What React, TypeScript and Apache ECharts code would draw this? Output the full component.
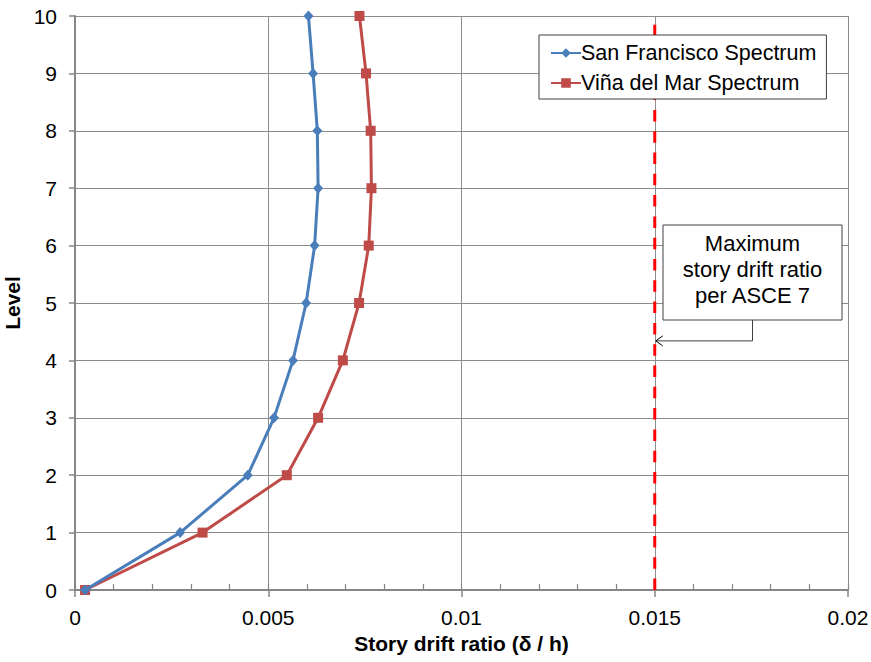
import React, { useEffect, useRef } from "react";
import * as echarts from "echarts";

const levels = [0, 1, 2, 3, 4, 5, 6, 7, 8, 9, 10];
const sanFrancisco = [0.00026, 0.00272, 0.00447, 0.00515, 0.00564, 0.00598, 0.0062, 0.00629, 0.00627, 0.00616, 0.00604];
const vinaDelMar = [0.00026, 0.0033, 0.00548, 0.00629, 0.00693, 0.00735, 0.0076, 0.00767, 0.00765, 0.00753, 0.00736];
const maxDriftRatio = 0.015;
const annotationLevel = 4.34;
const xTicks = [0, 0.005, 0.01, 0.015, 0.02];
const annotationLines = ["Maximum", "story drift ratio", "per ASCE 7"];

const FONT = "'Liberation Sans', Arial, sans-serif";

export default function App() {
  const ref = useRef<HTMLDivElement>(null);
  useEffect(() => {
    if (!ref.current) return;
    const chart = echarts.init(ref.current, null, { renderer: "svg" });
    const gridColor = "#8c8c8c";
    const axisColor = "#868686";
    const option: any = {
      animation: false,
      textStyle: { fontFamily: FONT },
      grid: { left: 75, right: 23, top: 16, bottom: 72, containLabel: false, outerBoundsMode: "none" },
      legend: {
        orient: "vertical",
        left: 539,
        top: 35,
        padding: [7, 10, 5, 11],
        itemGap: 8,
        itemWidth: 30,
        itemHeight: 12,
        borderColor: "#404040",
        borderWidth: 1,
        backgroundColor: "#fff",
        textStyle: { fontSize: 21.5, color: "#000", fontFamily: FONT, padding: [0, 0, 0, -5] },
        data: ["San Francisco Spectrum", "Viña del Mar Spectrum"],
      },
      xAxis: [
        {
          type: "value",
          min: xTicks[0],
          max: xTicks[xTicks.length - 1],
          interval: 0.005,
          name: "Story drift ratio (δ / h)",
          nameLocation: "middle",
          nameGap: 42,
          nameTextStyle: { fontSize: 21, fontWeight: "bold", color: "#000", fontFamily: FONT },
          axisLine: { show: true, onZero: false, lineStyle: { color: axisColor, width: 2 } },
          axisTick: { show: true, length: 7, inside: false, lineStyle: { color: axisColor, width: 1.5 } },
          axisLabel: {
            fontSize: 21,
            color: "#000",
            margin: 17,
            fontFamily: FONT,
            formatter: (v: number) => String(parseFloat(v.toFixed(4))),
          },
          splitLine: { show: true, lineStyle: { color: gridColor, width: 1 } },
        },
        {
          type: "value",
          min: 0,
          max: 0.02,
          interval: 0.001,
          position: "bottom",
          axisLine: { show: false },
          axisTick: { show: true, inside: true, length: 6, lineStyle: { color: axisColor, width: 1.2 } },
          axisLabel: { show: false },
          splitLine: { show: false },
        },
      ],
      yAxis: {
        type: "value",
        min: 0,
        max: 10,
        interval: 1,
        name: "Level",
        nameLocation: "middle",
        nameGap: 48,
        nameRotate: 90,
        nameTextStyle: { fontSize: 21, fontWeight: "bold", color: "#000", fontFamily: FONT },
        axisLine: { show: true, onZero: false, lineStyle: { color: axisColor, width: 2 } },
        axisTick: { show: true, length: 6, lineStyle: { color: axisColor, width: 1.5 } },
        axisLabel: { fontSize: 21, color: "#000", margin: 18, fontFamily: FONT },
        splitLine: { show: true, lineStyle: { color: gridColor, width: 1 } },
      },
      series: [
        {
          name: "limit",
          type: "line",
          data: [
            [maxDriftRatio, 0],
            [maxDriftRatio, 10],
          ],
          symbol: "none",
          lineStyle: { color: "#ff0000", width: 3, type: [11.5, 9.8] },
          z: 1,
        },
        {
          name: "San Francisco Spectrum",
          type: "line",
          data: levels.map((l, i) => [sanFrancisco[i], l]),
          symbol: "diamond",
          symbolSize: [10, 11],
          itemStyle: { color: "#4a7ebb" },
          lineStyle: { color: "#4a7ebb", width: 3 },
          z: 3,
        },
        {
          name: "Viña del Mar Spectrum",
          type: "line",
          data: levels.map((l, i) => [vinaDelMar[i], l]),
          symbol: "rect",
          symbolSize: 10,
          itemStyle: { color: "#be4b48" },
          lineStyle: { color: "#be4b48", width: 3 },
          z: 2,
        },
      ],
    };
    chart.setOption(option);

    const tip = chart.convertToPixel({ gridIndex: 0 }, [maxDriftRatio, annotationLevel]) as number[];
    const boxX = 663;
    const boxY = 225;
    const boxW = 179;
    const boxH = 95;
    const cx = boxX + boxW / 2;
    const tipX = tip[0] + 1;
    const tipY = tip[1];
    chart.setOption({
      graphic: [
        {
          type: "rect",
          shape: { x: boxX, y: boxY, width: boxW, height: boxH },
          style: { fill: "#fff", stroke: "#404040", lineWidth: 1 },
          z: 100,
        },
        ...annotationLines.map((t, i) => ({
          type: "text",
          x: cx,
          y: boxY + 18 + i * 26,
          style: {
            text: t,
            fill: "#000",
            font: `22px ${FONT}`,
            textAlign: "center",
            textVerticalAlign: "middle",
          },
          z: 101,
        })),
        {
          type: "polyline",
          shape: { points: [[cx, boxY + boxH], [cx, tipY], [tipX, tipY]] },
          style: { stroke: "#404040", lineWidth: 1, fill: "none" },
          z: 100,
        },
        {
          type: "polyline",
          shape: { points: [[tipX + 7, tipY - 5], [tipX, tipY], [tipX + 7, tipY + 5]] },
          style: { stroke: "#000", lineWidth: 1, fill: "none" },
          z: 100,
        },
      ],
    });

    return () => chart.dispose();
  }, []);
  return <div ref={ref} style={{ width: 871, height: 662, position: "absolute", left: 0, top: 0 }} />;
}
